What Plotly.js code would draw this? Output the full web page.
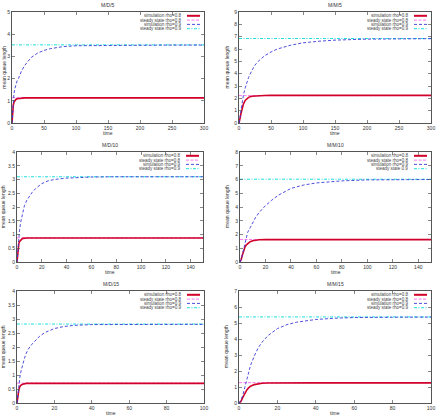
<!DOCTYPE html>
<html><head><meta charset="utf-8">
<script src="https://cdn.plot.ly/plotly-3.0.1.min.js"></script>
<style>html,body{margin:0;padding:0;background:#fff}#chart{width:436px;height:415px}</style>
</head><body><div id="chart"></div>
<script>
// ---- data ----
const titles = ["M/D/5", "M/M/5", "M/D/10", "M/M/10", "M/D/15", "M/M/15"];
const legendLabels = ["simulation rho=0.8", "steady state rho=0.8", "simulation rho=0.9", "steady state rho=0.9"];
const legendLabelsMM10 = ["simulation rho=0.8", "steady state rho=0.8", "simulation rho=0.9", "steady state 0.9"];

const md5_t     = [0,1,2,3,4,6,8,10,15,20,25,30,40,50,60,70,80,100,120,150,200,250,300];
const md5_sim08 = [0,0.55,0.8,0.93,1.0,1.06,1.09,1.1,1.12,1.13,1.13,1.13,1.13,1.13,1.13,1.13,1.13,1.13,1.13,1.13,1.13,1.13,1.13];
const md5_sim09 = [0,0.6,1.0,1.3,1.5,1.75,1.9,2.0,2.35,2.6,2.8,2.95,3.15,3.27,3.35,3.4,3.44,3.48,3.49,3.5,3.5,3.51,3.51];
const md5_ss08 = 1.14, md5_ss09 = 3.52;

const mm5_t     = [0,1,2,3,5,7,10,15,20,25,30,40,50,60,80,100,125,150,200,250,300];
const mm5_sim08 = [0,0.15,0.45,0.75,1.2,1.55,1.85,2.08,2.17,2.2,2.22,2.23,2.24,2.24,2.24,2.24,2.24,2.24,2.24,2.24,2.24];
const mm5_sim09 = [0,0.2,0.6,1.0,1.7,2.3,2.9,3.7,4.25,4.7,5.0,5.45,5.76,6.0,6.3,6.5,6.63,6.72,6.8,6.83,6.84];
const mm5_ss08 = 2.22, mm5_ss09 = 6.85;

const md10_t     = [0,0.5,1,1.5,2,3,4,5,6,8,10,12,15,20,25,30,40,50,60,80,100,120,150];
const md10_sim08 = [0,0.35,0.55,0.67,0.74,0.81,0.84,0.86,0.87,0.87,0.87,0.87,0.87,0.87,0.87,0.87,0.87,0.87,0.87,0.87,0.87,0.87,0.87];
const md10_sim09 = [0,0.4,0.7,0.95,1.15,1.45,1.7,1.9,2.05,2.25,2.4,2.52,2.67,2.85,2.95,3.0,3.05,3.08,3.09,3.1,3.1,3.1,3.1];
const md10_ss08 = 0.88, md10_ss09 = 3.1;

const mm10_t     = [0,1,2,3,4,5,6,8,10,12,15,20,25,30,40,50,60,70,80,100,120,150];
const mm10_sim08 = [0,0.2,0.55,0.85,1.1,1.25,1.35,1.48,1.55,1.59,1.62,1.63,1.63,1.63,1.63,1.63,1.63,1.63,1.63,1.63,1.63,1.63];
const mm10_sim09 = [0,0.2,0.6,1.05,1.5,1.85,2.15,2.5,2.85,3.2,3.6,4.1,4.5,4.85,5.35,5.6,5.75,5.85,5.9,5.97,5.99,6.0];
const mm10_ss08 = 1.64, mm10_ss09 = 6.02;

const md15_t     = [0,0.5,1,1.5,2,3,4,5,6,8,10,12,15,20,25,30,40,50,60,80,100];
const md15_sim08 = [0,0.3,0.48,0.58,0.63,0.67,0.69,0.7,0.7,0.7,0.7,0.7,0.7,0.7,0.7,0.7,0.7,0.7,0.7,0.7,0.7];
const md15_sim09 = [0,0.35,0.65,0.9,1.1,1.4,1.6,1.78,1.92,2.1,2.25,2.38,2.52,2.66,2.73,2.77,2.8,2.8,2.81,2.81,2.81];
const md15_ss08 = 0.71, md15_ss09 = 2.82;

const mm15_t     = [0,1,2,3,4,5,6,8,10,12,15,20,25,30,40,50,60,80,100];
const mm15_sim08 = [0,0.1,0.35,0.6,0.8,0.95,1.05,1.15,1.2,1.23,1.25,1.26,1.26,1.26,1.26,1.26,1.26,1.26,1.26];
const mm15_sim09 = [0,0.15,0.5,0.95,1.5,1.95,2.35,2.95,3.45,3.8,4.2,4.65,4.9,5.05,5.22,5.3,5.34,5.36,5.37];
const mm15_ss08 = 1.27, mm15_ss09 = 5.38;

const xMax = [300, 300, 150, 150, 100, 100];
const xDtick = [50, 50, 20, 20, 20, 20];
const yMax = [5, 9, 4, 8, 4, 7];
const yDtick = [1, 1, 0.5, 1, 0.5, 1];

const panels = [
  [md5_t, md5_sim08, md5_sim09, md5_ss08, md5_ss09],
  [mm5_t, mm5_sim08, mm5_sim09, mm5_ss08, mm5_ss09],
  [md10_t, md10_sim08, md10_sim09, md10_ss08, md10_ss09],
  [mm10_t, mm10_sim08, mm10_sim09, mm10_ss08, mm10_ss09],
  [md15_t, md15_sim08, md15_sim09, md15_ss08, md15_ss09],
  [mm15_t, mm15_sim08, mm15_sim09, mm15_ss08, mm15_ss09]
];

// ---- layout geometry (pixels) ----
const W = 436, H = 415;
const boxes = [ // [left, right, top, bottom]
  [12, 204, 12, 123], [239, 431, 12, 123],
  [17, 203, 152, 262], [240, 431, 152, 262],
  [17, 204, 291, 403], [239, 431, 291, 403]
];
const px = x => x / W, py = y => 1 - y / H;

const styles = [
  {color: '#d0002a', width: 1.6, dash: 'solid'},
  {color: '#ff66ee', width: 0.9, dash: '3px,1.5px'},
  {color: '#3a3ad8', width: 0.9, dash: '3px,2px'},
  {color: '#22dddd', width: 1.0, dash: '3px,1.5px,1px,1.5px'}
];

const FONT = 'Liberation Sans, DejaVu Sans, sans-serif';
const traces = [], annotations = [], shapes = [];
const layout = {
  width: W, height: H, margin: {l: 0, r: 0, t: 0, b: 0},
  paper_bgcolor: '#fff', plot_bgcolor: '#fff', showlegend: false,
  font: {family: FONT, size: 5, color: '#333'}
};

panels.forEach((p, i) => {
  const k = i + 1, xs = k === 1 ? '' : String(k);
  const [t, s08, s09, ss08, ss09] = p;
  const xa = 'x' + xs, ya = 'y' + xs;
  const xEnd = xMax[i];
  const series = [
    {x: t, y: s08}, {x: [0, xEnd], y: [ss08, ss08]},
    {x: t, y: s09}, {x: [0, xEnd], y: [ss09, ss09]}
  ];
  const order = [1, 0, 3, 2];
  order.forEach(j => {
    traces.push({type: 'scatter', mode: 'lines', x: series[j].x, y: series[j].y,
      xaxis: xa, yaxis: ya, line: styles[j], hoverinfo: 'skip'});
  });
  const b = boxes[i];
  const axCommon = {showgrid: false, zeroline: false, showline: true, linecolor: '#555', linewidth: 1,
    mirror: 'ticks', ticks: 'inside', ticklen: 3, tickwidth: 0.7, tickcolor: '#555',
    tickfont: {size: 5, color: '#333', family: FONT}, fixedrange: true};
  layout['xaxis' + xs] = Object.assign({}, axCommon, {domain: [px(b[0]), px(b[1])], range: [0, xEnd],
    dtick: xDtick[i], tick0: 0, anchor: ya});
  layout['yaxis' + xs] = Object.assign({}, axCommon, {domain: [py(b[3]), py(b[2])], range: [0, yMax[i]],
    dtick: yDtick[i], tick0: 0, anchor: xa});
  annotations.push({text: titles[i], xref: 'paper', yref: 'paper', x: px((b[0] + b[1]) / 2), y: py(b[2] - 7),
    showarrow: false, xanchor: 'center', yanchor: 'middle', font: {size: 5, color: '#333'}});
  annotations.push({text: 'time', xref: 'paper', yref: 'paper', x: px((b[0] + b[1]) / 2), y: py(b[3] + 10),
    showarrow: false, xanchor: 'center', yanchor: 'middle', font: {size: 5, color: '#333'}});
  const yx = (i % 2 === 0) ? 3.2 : b[0] - 13;
  annotations.push({text: 'mean queue length', xref: 'paper', yref: 'paper', x: px(yx), y: py((b[2] + b[3]) / 2),
    showarrow: false, textangle: -90, xanchor: 'center', yanchor: 'middle', font: {size: 5, color: '#333'}});
  const labs = i === 3 ? legendLabelsMM10 : legendLabels;
  labs.forEach((lab, j) => {
    const yy = b[2] + 3.8 + j * 4.3;
    annotations.push({text: lab, xref: 'paper', yref: 'paper', x: px(b[1] - 21), y: py(yy),
      showarrow: false, xanchor: 'right', yanchor: 'middle', font: {size: 4.5, color: '#444'}});
    shapes.push({type: 'line', xref: 'paper', yref: 'paper', x0: px(b[1] - 17), x1: px(b[1] - 4),
      y0: py(yy), y1: py(yy), line: {color: styles[j].color, width: j === 0 ? 2 : styles[j].width, dash: styles[j].dash}});
  });
});
layout.annotations = annotations;
layout.shapes = shapes;
Plotly.newPlot('chart', traces, layout, {staticPlot: true, displayModeBar: false});
</script>
</body></html>
